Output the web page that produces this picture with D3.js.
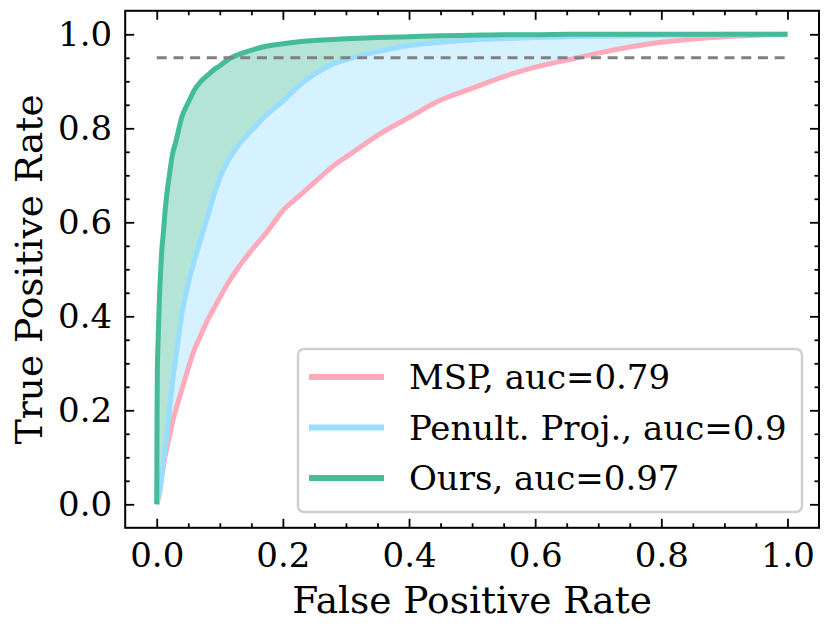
<!DOCTYPE html>
<html>
<head>
<meta charset="utf-8">
<script src="https://cdn.jsdelivr.net/npm/d3@7"></script>
<style>
  html, body { margin: 0; padding: 0; background: #fff; }
  svg { display: block; }
  text { font-family: "DejaVu Serif", serif; fill: #000; }
</style>
</head>
<body>
<svg id="chart" width="831" height="632"></svg>
<script>
// ---- data ----
const fpr = [0, 0.0005, 0.001, 0.002, 0.004, 0.006, 0.008, 0.01, 0.013, 0.016, 0.02, 0.025, 0.03, 0.04, 0.05,
  0.06, 0.07, 0.08, 0.09, 0.1, 0.115, 0.13, 0.15, 0.175, 0.2, 0.225, 0.25, 0.28, 0.31, 0.35,
  0.4, 0.45, 0.5, 0.55, 0.6, 0.65, 0.7, 0.75, 0.8, 0.85, 0.9, 0.95, 1.0];
const tprMSP = [0, 0.002, 0.005, 0.01, 0.02, 0.04, 0.06, 0.075, 0.1, 0.12, 0.145, 0.175, 0.2, 0.245, 0.29,
  0.33, 0.36, 0.39, 0.415, 0.44, 0.475, 0.505, 0.54, 0.58, 0.625, 0.655, 0.685, 0.72, 0.748, 0.785,
  0.823, 0.86, 0.885, 0.91, 0.93, 0.945, 0.96, 0.973, 0.983, 0.99, 0.995, 0.998, 1.0];
const tprPenult = [0, 0.005, 0.01, 0.015, 0.025, 0.04, 0.06, 0.08, 0.115, 0.15, 0.2, 0.26, 0.31, 0.405, 0.47,
  0.52, 0.565, 0.61, 0.655, 0.695, 0.735, 0.765, 0.795, 0.83, 0.858, 0.89, 0.915, 0.937, 0.95, 0.963,
  0.976, 0.983, 0.988, 0.991, 0.993, 0.995, 0.996, 0.997, 0.998, 0.999, 1.0, 1.0, 1.0];
const tprOurs = [0, 0.2, 0.29, 0.34, 0.43, 0.49, 0.54, 0.57, 0.62, 0.66, 0.7, 0.745, 0.77, 0.825, 0.855,
  0.882, 0.9, 0.912, 0.924, 0.933, 0.948, 0.957, 0.966, 0.975, 0.98, 0.984, 0.987, 0.989, 0.991, 0.993,
  0.995, 0.997, 0.998, 0.999, 0.999, 1.0, 1.0, 1.0, 1.0, 1.0, 1.0, 1.0, 1.0];
const seriesNames = ["MSP, auc=0.79", "Penult. Proj., auc=0.9", "Ours, auc=0.97"];
const seriesColors = ["#FFAABB", "#99DDFF", "#44BB99"];
const tickValues = [0.0, 0.2, 0.4, 0.6, 0.8, 1.0];
const threshold = 0.95;
const xLabel = "False Positive Rate";
const yLabel = "True Positive Rate";

// ---- layout ----
const svg = d3.select("#chart");
const L = 125.2, R = 819, T = 10.8, B = 527.8;
const x = d3.scaleLinear().domain([-0.05, 1.05]).range([L, R]);
const y = d3.scaleLinear().domain([-0.05, 1.05]).range([B, T]);

const series = [tprMSP, tprPenult, tprOurs];
const pts = s => fpr.map((f, i) => [f, s[i]]);

const g = svg.append("g");

// fills
const areaBetween = (upper, lower) => d3.area()
  .curve(d3.curveMonotoneX)
  .x((d, i) => x(fpr[i]))
  .y0((d, i) => y(lower[i]))
  .y1((d, i) => y(upper[i]))(fpr);

g.append("path").attr("d", areaBetween(tprOurs, tprPenult))
  .attr("fill", seriesColors[2]).attr("fill-opacity", 0.4);
g.append("path").attr("d", areaBetween(tprPenult, tprMSP))
  .attr("fill", seriesColors[1]).attr("fill-opacity", 0.4);

// lines
const line = d3.line().curve(d3.curveMonotoneX).x(d => x(d[0])).y(d => y(d[1]));
series.forEach((s, k) => {
  g.append("path").attr("d", line(pts(s)))
    .attr("fill", "none").attr("stroke", seriesColors[k])
    .attr("stroke-width", 5).attr("stroke-linejoin", "round");
});

// threshold
g.append("line")
  .attr("x1", x(0)).attr("x2", x(1)).attr("y1", y(threshold)).attr("y2", y(threshold))
  .attr("stroke", "#808080").attr("stroke-width", 3).attr("stroke-dasharray", "10,6.7");

// axes with inward ticks
const minor = d3.range(0, 1.0001, 0.05).map(v => +v.toFixed(2));
function addAxis(axisGen, transform, hideLabels) {
  const a = svg.append("g").attr("transform", transform).call(axisGen);
  a.select(".domain").remove();
  a.selectAll("line").attr("stroke", "#000").attr("stroke-width", 1.8);
  a.selectAll("text").style("font-family", "DejaVu Serif").style("font-size", "34px");
  if (hideLabels) a.selectAll("text").remove();
  return a;
}
const fmt = d3.format(".1f");
// major
addAxis(d3.axisBottom(x).tickValues(tickValues).tickSize(-9).tickPadding(15).tickFormat(fmt), `translate(0,${B})`, false)
  .selectAll("text").attr("dy", "0.71em");
addAxis(d3.axisLeft(y).tickValues(tickValues).tickSize(-9).tickPadding(13).tickFormat(fmt), `translate(${L},0)`, false);
addAxis(d3.axisTop(x).tickValues(tickValues).tickSize(-9), `translate(0,${T})`, true);
addAxis(d3.axisRight(y).tickValues(tickValues).tickSize(-9), `translate(${R},0)`, true);
// minor
const minorX = minor.filter(v => !tickValues.some(t => Math.abs(t - v) < 1e-9));
addAxis(d3.axisBottom(x).tickValues(minorX).tickSize(-4.5), `translate(0,${B})`, true);
addAxis(d3.axisLeft(y).tickValues(minorX).tickSize(-4.5), `translate(${L},0)`, true);
addAxis(d3.axisTop(x).tickValues(minorX).tickSize(-4.5), `translate(0,${T})`, true);
addAxis(d3.axisRight(y).tickValues(minorX).tickSize(-4.5), `translate(${R},0)`, true);

// frame
svg.append("rect").attr("x", L).attr("y", T).attr("width", R - L).attr("height", B - T)
  .attr("fill", "none").attr("stroke", "#000").attr("stroke-width", 2);

// axis labels
svg.append("text").attr("x", (L + R) / 2).attr("y", 613).attr("text-anchor", "middle")
  .style("font-size", "37.5px").text(xLabel);
svg.append("text").attr("transform", `translate(42,${(T + B) / 2}) rotate(-90)`).attr("text-anchor", "middle")
  .style("font-size", "37.5px").text(yLabel);

// legend
const lg = svg.append("g");
lg.append("rect").attr("x", 298).attr("y", 349).attr("width", 504).attr("height", 163)
  .attr("rx", 6).attr("fill", "#fff").attr("fill-opacity", 0.8)
  .attr("stroke", "#d0d0d0").attr("stroke-width", 2.5);
const rowY = d3.scaleLinear().domain([0, 2]).range([377, 478]);
seriesNames.forEach((name, k) => {
  lg.append("line").attr("x1", 309).attr("x2", 384).attr("y1", rowY(k)).attr("y2", rowY(k))
    .attr("stroke", seriesColors[k]).attr("stroke-width", 6);
  lg.append("text").attr("x", 409).attr("y", rowY(k)).attr("dy", "0.36em")
    .style("font-size", "34px").text(name);
});
</script>
</body>
</html>
